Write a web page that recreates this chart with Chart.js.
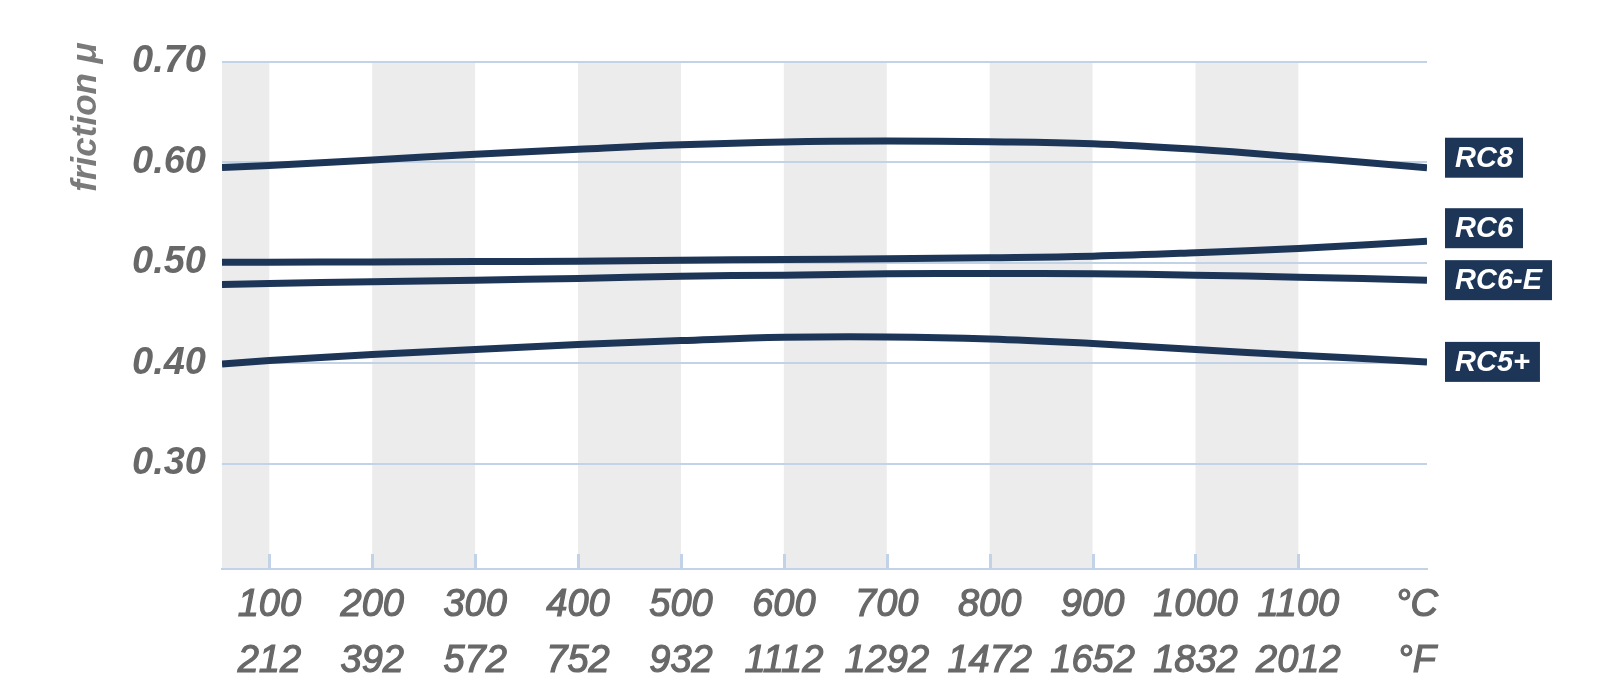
<!DOCTYPE html>
<html>
<head>
<meta charset="utf-8">
<script src="https://cdn.jsdelivr.net/npm/chart.js@4.4.1/dist/chart.umd.min.js"></script>
<style>
  html, body { margin: 0; padding: 0; background: #fff; }
  #wrap { width: 1610px; height: 696px; }
</style>
</head>
<body>
<div id="wrap"><canvas id="grafico" width="1610" height="696"></canvas></div>
<script>
// ------------------------
// Data
// ------------------------

// temperatures (°C) where the curves were read; first and last are the chart edges
const temperaturas = [54, 100, 200, 300, 400, 500, 600, 700, 800, 900, 1000, 1100, 1225];

const ticksC = [100, 200, 300, 400, 500, 600, 700, 800, 900, 1000, 1100];
const ticksF = [212, 392, 572, 752, 932, 1112, 1292, 1472, 1652, 1832, 2012];
const ticksY = [0.30, 0.40, 0.50, 0.60, 0.70];

const nomes = ['RC8', 'RC6', 'RC6-E', 'RC5+'];
const rc8  = [0.595, 0.597, 0.6025, 0.608, 0.613, 0.6175, 0.6203, 0.6212, 0.6206, 0.6186, 0.613, 0.6053, 0.5947];
const rc6  = [0.5006, 0.5006, 0.5008, 0.5012, 0.5016, 0.5026, 0.5033, 0.504, 0.505, 0.5066, 0.51, 0.5143, 0.5215];
const rc6e = [0.4784, 0.4794, 0.4811, 0.4827, 0.4844, 0.4867, 0.4877, 0.489, 0.4893, 0.489, 0.4877, 0.4857, 0.4827];
const rc5  = [0.3993, 0.4026, 0.4086, 0.4136, 0.4186, 0.4225, 0.4258, 0.4262, 0.4242, 0.4195, 0.4136, 0.4079, 0.4013];

// ------------------------
// Styles
// ------------------------

const corLinha = '#1d3658';
const corGrade = '#c2d2e7';
const corFaixa = '#ececec';
const corTexto = '#686868';
const fonte = "'Liberation Sans', Arial, sans-serif";

// nudges for the end labels so they don't collide
const ajusteRotulo = { 'RC8': -10, 'RC6': -13, 'RC6-E': 0, 'RC5+': 0 };

function montarSerie(nome, valores) {
  return {
    label: nome,
    data: temperaturas.map((t, i) => ({ x: t, y: valores[i] })),
    borderColor: corLinha,
    borderWidth: 7,
    pointRadius: 0,
    tension: 0.4,
    fill: false
  };
}

// ------------------------
// Plugin: bands, tick marks, axis title, end labels
// ------------------------

const extras = {
  id: 'extras',
  beforeDraw(chart) {
    const { ctx, chartArea, scales: { x } } = chart;
    const limites = [x.min, ...ticksC];
    ctx.save();
    ctx.fillStyle = corFaixa;
    for (let i = 0; i + 1 < limites.length; i += 2) {
      const a = x.getPixelForValue(limites[i]);
      const b = x.getPixelForValue(limites[i + 1]);
      ctx.fillRect(a, chartArea.top, b - a, chartArea.bottom - chartArea.top);
    }
    ctx.restore();
  },
  afterDraw(chart) {
    const { ctx, chartArea, scales: { x } } = chart;
    ctx.save();

    // small tick marks pointing up from the axis
    ctx.strokeStyle = corGrade;
    ctx.lineWidth = 3;
    ticksC.forEach(v => {
      const px = Math.round(x.getPixelForValue(v)) + 0.5;
      ctx.beginPath();
      ctx.moveTo(px, chartArea.bottom);
      ctx.lineTo(px, chartArea.bottom - 15);
      ctx.stroke();
    });

    // y title
    ctx.save();
    ctx.translate(86, 117);
    ctx.rotate(-Math.PI / 2);
    ctx.fillStyle = '#7a7a7a';
    ctx.font = `italic bold 35px ${fonte}`;
    ctx.textAlign = 'center';
    ctx.textBaseline = 'middle';
    ctx.fillText('friction μ', 0, 0);
    ctx.restore();

    // end labels
    ctx.font = `italic bold 29px ${fonte}`;
    ctx.textBaseline = 'middle';
    ctx.textAlign = 'left';
    chart.data.datasets.forEach((ds, i) => {
      const pts = chart.getDatasetMeta(i).data;
      const fim = pts[pts.length - 1];
      const y = fim.y + (ajusteRotulo[ds.label] || 0);
      const bx = chartArea.right + 18;
      const w = ctx.measureText(ds.label).width + 20;
      ctx.fillStyle = corLinha;
      ctx.fillRect(bx, y - 20, w, 40);
      ctx.fillStyle = '#ffffff';
      ctx.fillText(ds.label, bx + 10, y + 1);
    });

    ctx.restore();
  }
};

// ------------------------
// Chart
// ------------------------

const ctx = document.getElementById('grafico').getContext('2d');
const grafico = new Chart(ctx, {
  type: 'line',
  data: {
    datasets: [
      montarSerie(nomes[0], rc8),
      montarSerie(nomes[1], rc6),
      montarSerie(nomes[2], rc6e),
      montarSerie(nomes[3], rc5)
    ]
  },
  options: {
    responsive: false,
    animation: false,
    layout: { padding: { top: 62, right: 183, bottom: 0, left: 0 } },
    plugins: {
      legend: { display: false },
      tooltip: { enabled: false }
    },
    scales: {
      x: {
        type: 'linear',
        min: 54,
        max: 1225,
        afterBuildTicks: s => {
          s.ticks = ticksC.map(v => ({ value: v })).concat([{ value: s.max - 10 }]);
        },
        afterFit: s => { s.height = 127; },
        grid: { display: false, drawTicks: false },
        border: { display: true, color: corGrade, width: 2 },
        ticks: {
          autoSkip: false,
          maxRotation: 0,
          padding: 8,
          color: corTexto,
          textStrokeColor: corTexto,
          textStrokeWidth: 1.2,
          font: { family: fonte, size: 38, style: 'italic', lineHeight: 1.487 },
          callback: (v, i) => i < ticksC.length ? [String(ticksC[i]), String(ticksF[i])] : ['°C', '°F']
        }
      },
      y: {
        min: 0.195,
        max: 0.70,
        afterBuildTicks: s => { s.ticks = ticksY.map(v => ({ value: v })); },
        afterFit: s => { s.width = 222; },
        grid: { color: corGrade, lineWidth: 2, drawTicks: false },
        border: { display: false },
        ticks: {
          padding: 16,
          color: corTexto,
          font: { family: fonte, size: 38, style: 'italic', weight: 'bold' },
          callback: v => v.toFixed(2)
        }
      }
    }
  },
  plugins: [extras]
});
</script>
</body>
</html>
